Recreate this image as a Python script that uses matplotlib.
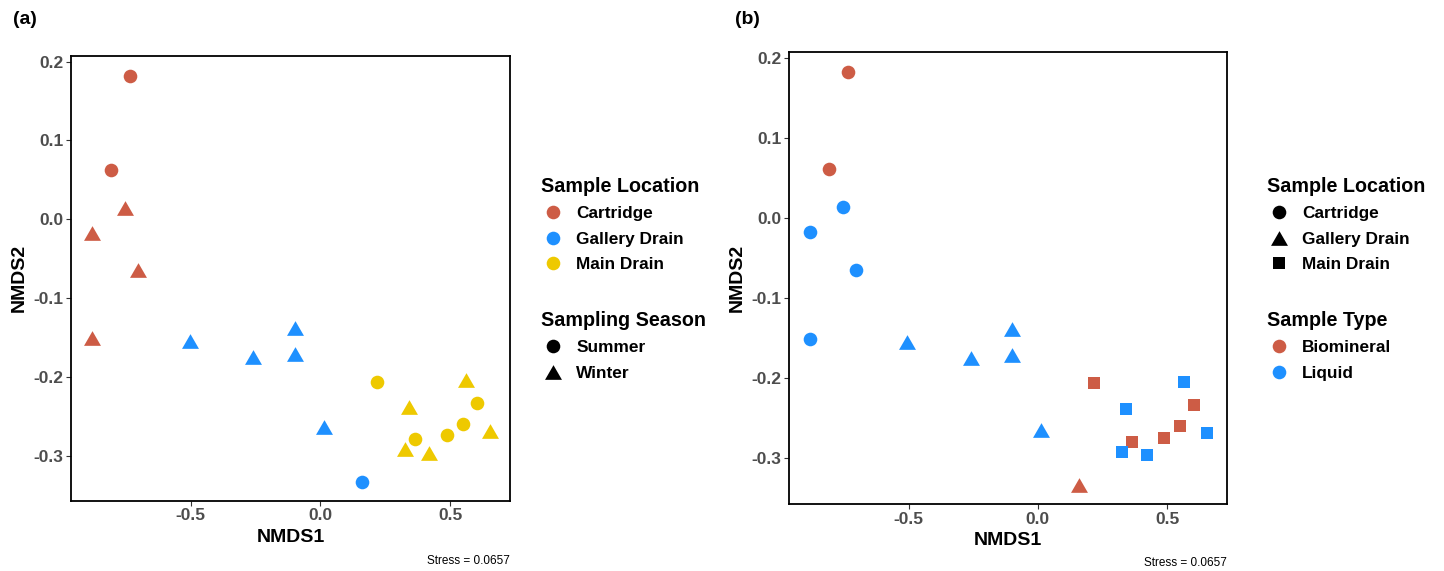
import matplotlib
matplotlib.use("Agg")
import matplotlib.pyplot as plt
from matplotlib.lines import Line2D

plt.rcParams["font.family"] = ["Liberation Sans", "DejaVu Sans"]
plt.rcParams["font.weight"] = "bold"
plt.rcParams["axes.unicode_minus"] = False

# ── Data (NMDS ordination) ──────────────────────────────────────────────────
nmds1 = [-0.735, -0.808, -0.753, -0.882, -0.704, -0.882,
         -0.504, -0.260, -0.100, -0.100, 0.013, 0.159,
         0.218, 0.341, 0.563, 0.603, 0.551, 0.654, 0.488, 0.365, 0.327, 0.420]
nmds2 = [0.182, 0.062, 0.014, -0.017, -0.065, -0.151,
         -0.155, -0.175, -0.138, -0.171, -0.264, -0.333,
         -0.206, -0.238, -0.204, -0.233, -0.260, -0.268, -0.274, -0.279, -0.292, -0.296]
location = ["Cartridge"] * 6 + ["Gallery Drain"] * 6 + ["Main Drain"] * 10
season = ["Summer", "Summer", "Winter", "Winter", "Winter", "Winter",
          "Winter", "Winter", "Winter", "Winter", "Winter", "Summer",
          "Summer", "Winter", "Winter", "Summer", "Summer", "Winter",
          "Summer", "Summer", "Winter", "Winter"]
sample_type = ["Biomineral" if s == "Summer" else "Liquid" for s in season]

locations = ["Cartridge", "Gallery Drain", "Main Drain"]
seasons = ["Summer", "Winter"]
types = ["Biomineral", "Liquid"]
stress = 0.0657

# ── Styles ──────────────────────────────────────────────────────────────────
TRI = [(-1, -0.866), (1, -0.866), (0, 0.866)]
loc_colors = {"Cartridge": "#CD5C45", "Gallery Drain": "#1E90FF", "Main Drain": "#EEC900"}
type_colors = {"Biomineral": "#CD5C45", "Liquid": "#1E90FF"}
season_markers = {"Summer": ("o", 9.8), "Winter": (TRI, 12.2)}
loc_markers = {"Cartridge": ("o", 9.8), "Gallery Drain": (TRI, 12.2), "Main Drain": ("s", 9.0)}

fig = plt.figure(figsize=(14.44, 5.71), dpi=100)
ax_a = fig.add_axes([0.0492, 0.1231, 0.3040, 0.7795])
ax_b = fig.add_axes([0.5464, 0.1173, 0.3033, 0.7916])


def style_axes(ax, stress_y_px):
    ax.set_xlim(-0.962, 0.731)
    ax.set_ylim(-0.357, 0.2075)
    ax.set_xticks([-0.5, 0.0, 0.5])
    ax.set_yticks([-0.3, -0.2, -0.1, 0.0, 0.1, 0.2])
    ax.tick_params(length=3.5, width=0.8, colors="#333333", labelcolor="#4D4D4D",
                   labelsize=12.5, pad=2)
    for lab in ax.get_xticklabels() + ax.get_yticklabels():
        lab.set_fontweight("bold")
    for sp in ax.spines.values():
        sp.set_linewidth(1.3)
        sp.set_color("black")
    ax.set_xlabel("NMDS1", fontsize=14, fontweight="bold", labelpad=4)
    ax.set_ylabel("NMDS2", fontsize=14, fontweight="bold", labelpad=4)
    right = ax.get_position().x1
    fig.text(right, 1 - stress_y_px / 571, f"Stress = {stress}",
             ha="right", va="center", fontsize=8.5, fontweight="normal")


# ── Panel (a): colour = location, shape = season ────────────────────────────
for i in range(len(nmds1)):
    mk, ms = season_markers[season[i]]
    ax_a.scatter(nmds1[i], nmds2[i], marker=mk, s=ms ** 2,
                 color=loc_colors[location[i]], linewidths=0, zorder=3)
style_axes(ax_a, 561.5)

# ── Panel (b): shape = location, colour = sample type ───────────────────────
for i in range(len(nmds1)):
    mk, ms = loc_markers[location[i]]
    ax_b.scatter(nmds1[i], nmds2[i], marker=mk, s=ms ** 2,
                 color=type_colors[sample_type[i]], linewidths=0, zorder=3)
style_axes(ax_b, 563.5)

fig.text(13 / 1444, 1 - 20 / 571, "(a)", fontsize=14, fontweight="bold", va="center")
fig.text(735 / 1444, 1 - 20 / 571, "(b)", fontsize=14, fontweight="bold", va="center")


# ── Legends ─────────────────────────────────────────────────────────────────
def add_legend(handles, title, x_px, y_px):
    leg = fig.legend(handles=handles, title=title, loc="upper left",
                     bbox_to_anchor=(x_px / 1444, 1 - y_px / 571),
                     frameon=False, fontsize=12.4, borderpad=0, borderaxespad=0,
                     handlelength=1.4, handletextpad=0.64, labelspacing=0.6,
                     alignment="left",
                     title_fontproperties={"size": 14.2, "weight": "bold"})
    for t in leg.get_texts():
        t.set_fontweight("bold")
    return leg


def mk_handle(label, marker, ms, color):
    return Line2D([], [], linestyle="none", marker=marker, markersize=ms,
                  markerfacecolor=color, markeredgewidth=0, label=label)


add_legend([mk_handle(l, "o", 9.8, loc_colors[l]) for l in locations],
           "Sample Location", 541, 177)
add_legend([mk_handle(s, season_markers[s][0], season_markers[s][1], "black") for s in seasons],
           "Sampling Season", 541, 311)

add_legend([mk_handle(l, loc_markers[l][0], loc_markers[l][1], "black") for l in locations],
           "Sample Location", 1267, 177)
add_legend([mk_handle(t, "o", 9.8, type_colors[t]) for t in types],
           "Sample Type", 1267, 311)

fig.savefig("out.png", dpi=100)
